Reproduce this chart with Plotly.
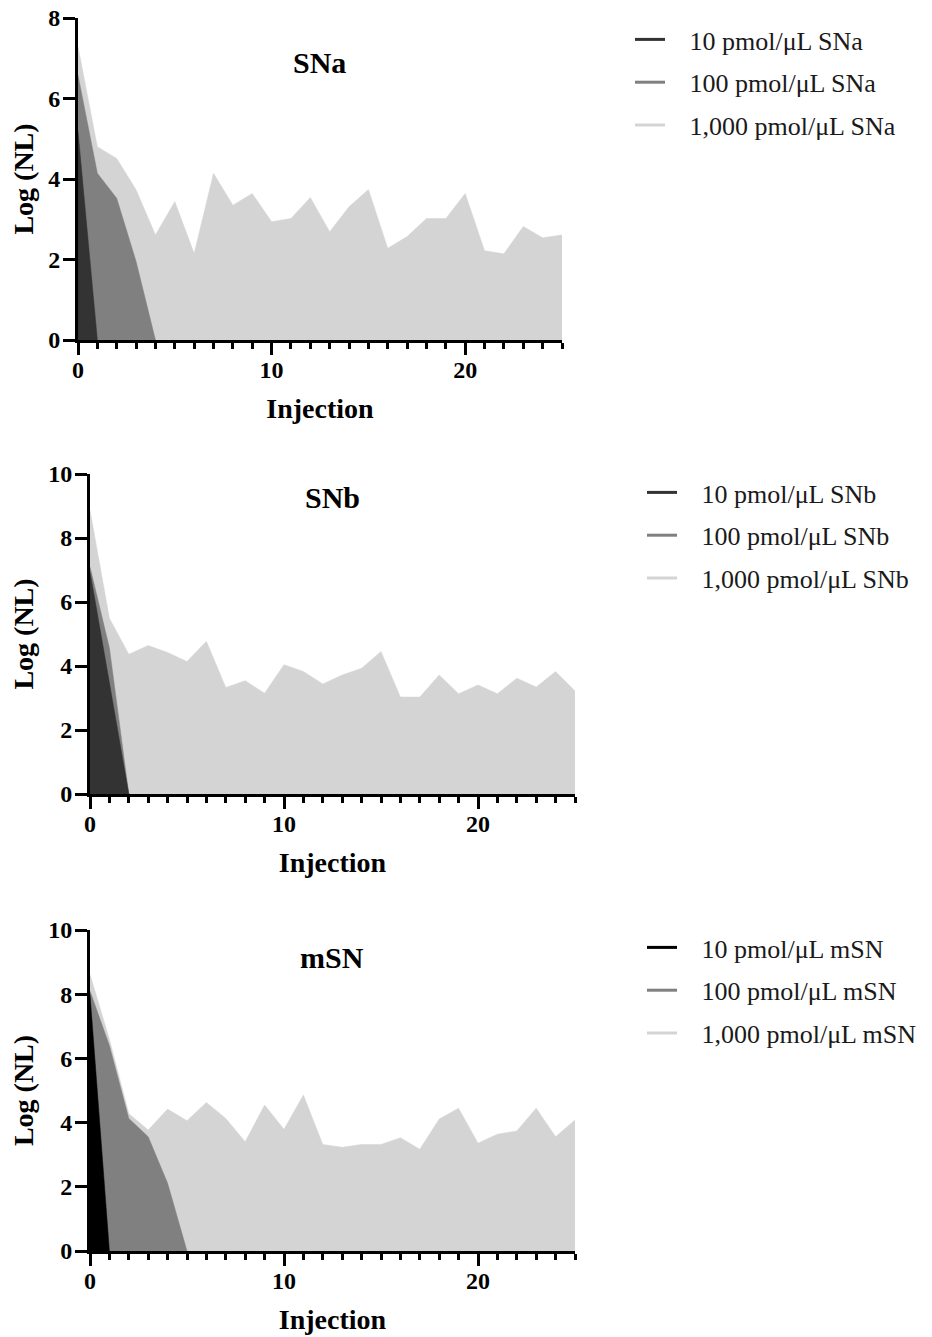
import plotly.graph_objects as go

# ---------------- data ----------------
injection_ticks = [0, 10, 20]

sna_10 = [5.18, 0]
sna_100 = [6.58, 4.14, 3.52, 1.95, 0]
sna_1000 = [7.29, 4.80, 4.51, 3.73, 2.61, 3.44, 2.15, 4.14, 3.35, 3.64, 2.94, 3.02, 3.54,
            2.69, 3.31, 3.74, 2.28, 2.57, 3.02, 3.02, 3.64, 2.22, 2.14, 2.82, 2.54, 2.61]

snb_10 = [6.95, 3.5, 0]
snb_100 = [7.10, 4.56, 0]
snb_1000 = [8.87, 5.49, 4.37, 4.64, 4.42, 4.14, 4.77, 3.33, 3.54, 3.15, 4.04, 3.83, 3.44,
            3.72, 3.93, 4.45, 3.03, 3.03, 3.72, 3.13, 3.41, 3.13, 3.62, 3.34, 3.83, 3.22]

msn_10 = [8.0, 0]
msn_100 = [8.10, 6.40, 4.13, 3.56, 2.11, 0]
msn_1000 = [8.61, 6.60, 4.28, 3.77, 4.42, 4.06, 4.63, 4.13, 3.40, 4.55, 3.79, 4.86, 3.32,
            3.23, 3.32, 3.32, 3.53, 3.17, 4.11, 4.45, 3.36, 3.64, 3.74, 4.45, 3.56, 4.08]

panel_titles = ["SNa", "SNb", "mSN"]
concentrations = ["10", "100", "1,000"]
y_max = [8, 10, 10]

panels = [
    [sna_10, sna_100, sna_1000],
    [snb_10, snb_100, snb_1000],
    [msn_10, msn_100, msn_1000],
]
colors = [
    ["#333333", "#808080", "#d4d4d4"],
    ["#333333", "#808080", "#d4d4d4"],
    ["#000000", "#808080", "#d4d4d4"],
]

# ---------------- layout geometry (screen pixels; page margin removed) ----------------
W, H = 932, 1337
OFF = 0
plot_px = [  # (x0, x1, ytop, ybottom) in screen pixels
    (78, 562, 18, 340),
    (90, 575, 474, 794),
    (90, 575, 930, 1251),
]
legend_px = [(630, 16), (642, 469), (642, 924)]
title_px = [(319, 62), (332, 497), (332, 957)]

FONT = "Liberation Serif"
NBSP = "\u00a0\u00a0\u00a0"


def fx(px):
    return (px - OFF) / W


def fy(py):
    return 1 - (py - OFF) / H


fig = go.Figure()

for i, (series, cols) in enumerate(zip(panels, colors)):
    n = i + 1
    xa = "x" if n == 1 else f"x{n}"
    ya = "y" if n == 1 else f"y{n}"
    leg = "legend" if n == 1 else f"legend{n}"
    # draw largest first so smaller ones lie on top
    for k in [2, 1, 0]:
        vals = series[k]
        fig.add_trace(go.Scatter(
            x=list(range(len(vals))), y=vals, mode="lines",
            fill="tozeroy", fillcolor=cols[k],
            line=dict(color=cols[k], width=0.5),
            xaxis=xa, yaxis=ya, showlegend=False, hoverinfo="skip",
        ))
    for k in [0, 1, 2]:
        fig.add_trace(go.Scatter(
            x=[None], y=[None], mode="lines",
            line=dict(color=cols[k], width=3),
            name=f"{NBSP}{concentrations[k]} pmol/\u03bcL {panel_titles[i]}",
            xaxis=xa, yaxis=ya, legend=leg, legendgroup=f"g{n}{k}",
            showlegend=True,
        ))

layout = dict(
    width=W, height=H,
    margin=dict(l=0, r=0, t=0, b=0, autoexpand=False),
    paper_bgcolor="white", plot_bgcolor="white",
    showlegend=True,
)

for i, (x0, x1, yt, yb) in enumerate(plot_px):
    n = i + 1
    xk = "xaxis" if n == 1 else f"xaxis{n}"
    yk = "yaxis" if n == 1 else f"yaxis{n}"
    anchor_x = "y" if n == 1 else f"y{n}"
    anchor_y = "x" if n == 1 else f"x{n}"
    layout[xk] = dict(
        domain=[fx(x0), fx(x1)], anchor=anchor_x, range=[0, 25],
        tickvals=injection_ticks, ticks="outside", ticklen=12, tickwidth=3,
        tickcolor="black", showline=True, linewidth=3, linecolor="black",
        showgrid=False, zeroline=False, ticklabelstandoff=-6,
        ticklabeloverflow="allow",
        minor=dict(dtick=1, tick0=0, ticks="outside", ticklen=6, tickwidth=3,
                   tickcolor="black", showgrid=False),
        tickfont=dict(family=FONT, size=24, color="black", weight="bold"),
        title=dict(text="Injection", standoff=17,
                   font=dict(family=FONT, size=28, color="black", weight="bold")),
    )
    layout[yk] = dict(
        domain=[fy(yb), fy(yt)], anchor=anchor_y, range=[0, y_max[i]],
        dtick=2, ticks="outside", ticklen=12, tickwidth=3, tickcolor="black",
        showline=True, linewidth=3, linecolor="black",
        showgrid=False, zeroline=False, ticklabelstandoff=-2,
        ticklabeloverflow="allow",
        tickfont=dict(family=FONT, size=24, color="black", weight="bold"),
        title=dict(text="Log (NL)", standoff=7,
                   font=dict(family=FONT, size=28, color="black", weight="bold")),
    )
    lx, ly = legend_px[i]
    lk = "legend" if n == 1 else f"legend{n}"
    layout[lk] = dict(
        x=fx(lx), y=fy(ly), xanchor="left", yanchor="top",
        font=dict(family=FONT, size=26, color="#1a1a1a"),
        bgcolor="rgba(0,0,0,0)", tracegroupgap=6, itemwidth=30,
    )

annotations = []
for i, (tx, ty) in enumerate(title_px):
    annotations.append(dict(
        text=f"<b>{panel_titles[i]}</b>", x=fx(tx), y=fy(ty),
        xref="paper", yref="paper", showarrow=False,
        xanchor="center", yanchor="middle",
        font=dict(family=FONT, size=30, color="black"),
    ))
layout["annotations"] = annotations

fig.update_layout(**layout)
fig.write_html(
    "out.html",
    config={"displayModeBar": False},
    post_script="document.body.style.margin='0';document.body.style.overflow='hidden';",
)
